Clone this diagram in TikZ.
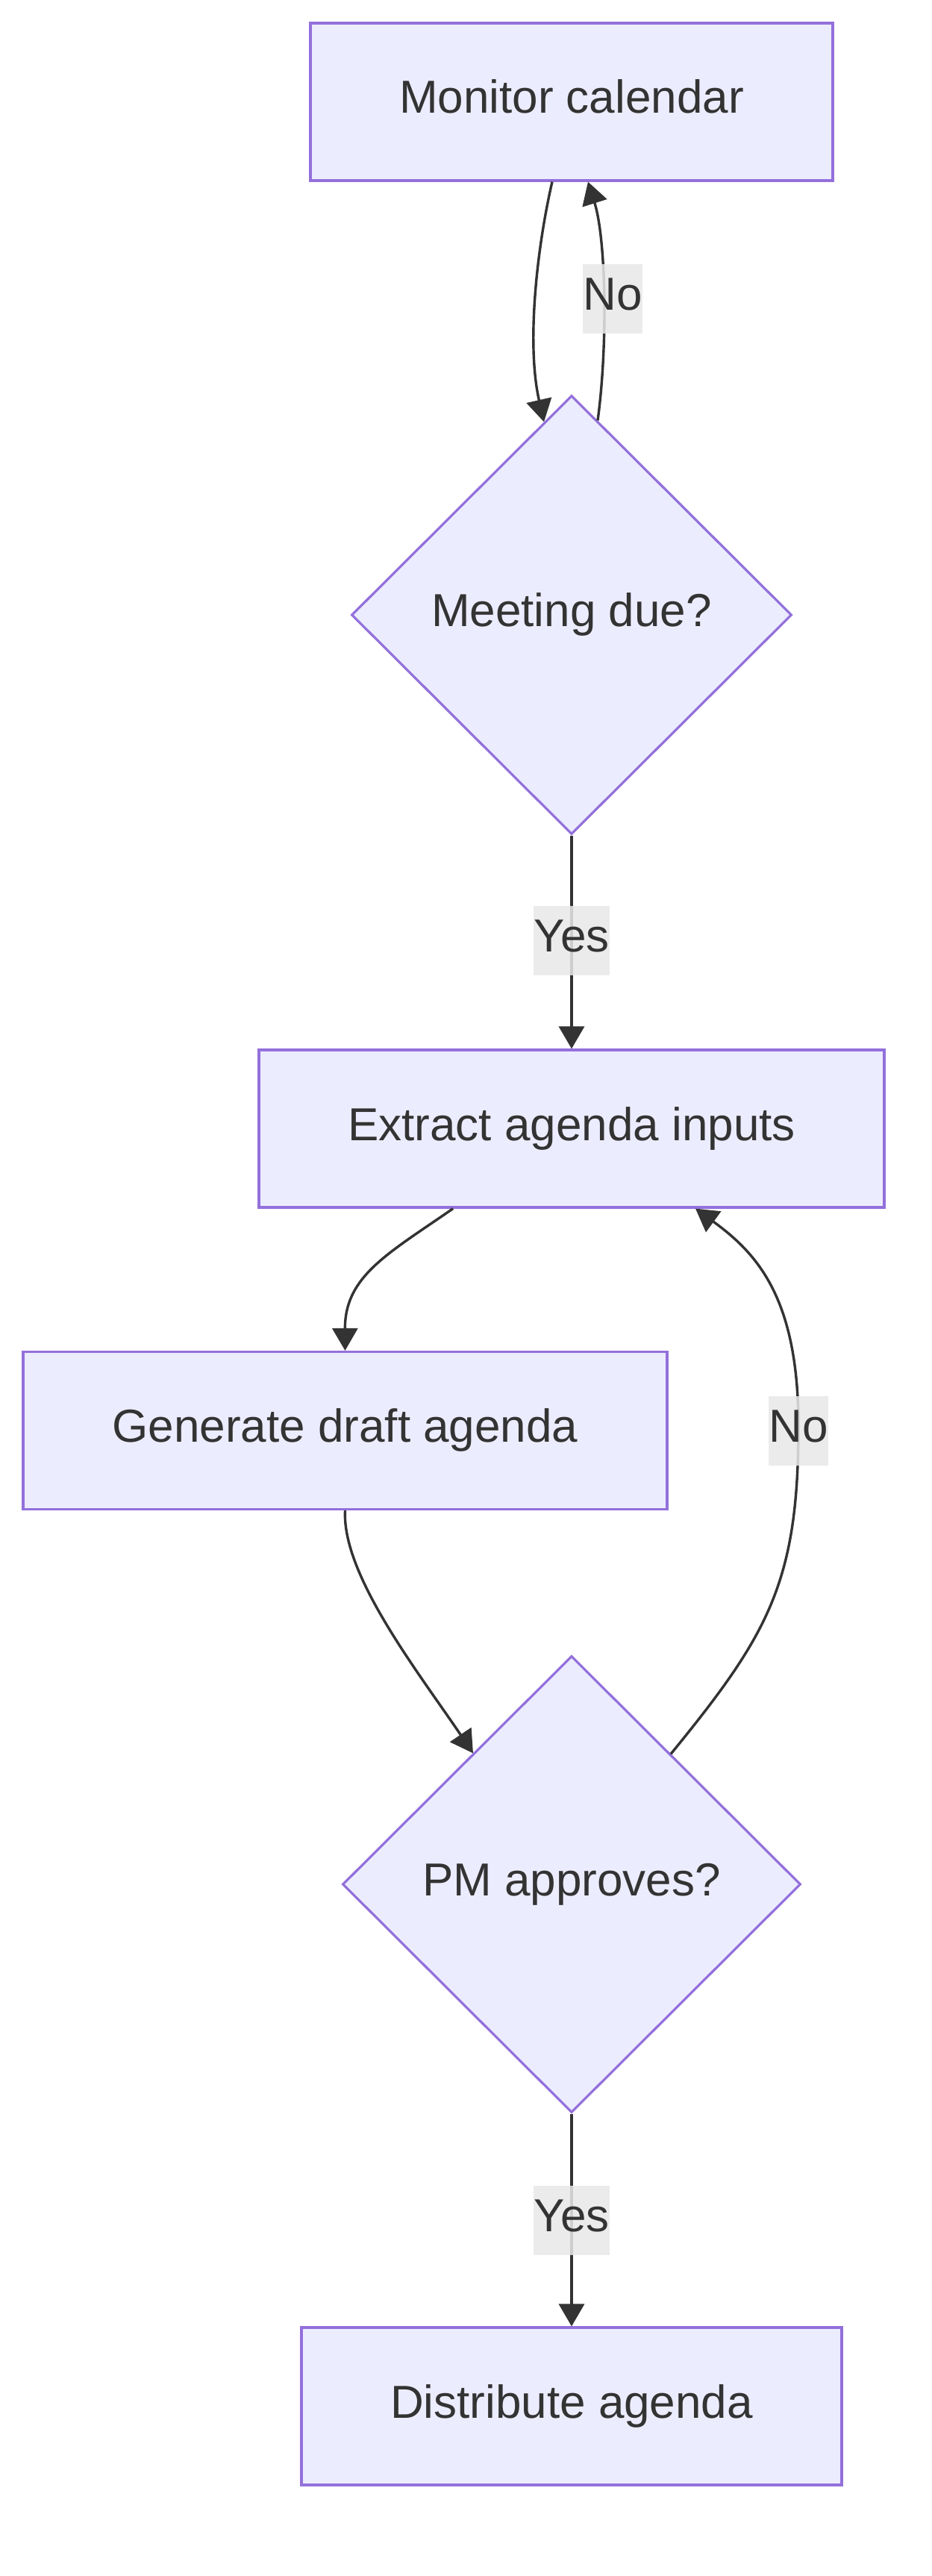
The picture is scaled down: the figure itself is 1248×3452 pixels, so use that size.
\documentclass[tikz,border=0pt]{standalone}
\usepackage{fontspec}
\setmainfont{Liberation Sans}
\usetikzlibrary{shapes.geometric,arrows.meta,calc}
\definecolor{nodefill}{HTML}{ECECFF}
\definecolor{nodeline}{HTML}{9370DB}
\definecolor{ink}{HTML}{333333}
\definecolor{lblbg}{HTML}{E8E8E8}
\begin{document}
\begin{tikzpicture}[x=0.5pt,y=-0.5pt,
  box/.style={draw=nodeline,fill=nodefill,line width=1.6pt,text=ink,
    font=\fontsize{31}{37}\selectfont,inner sep=0pt,
    text height=23.25pt,text depth=7.75pt},
  proc/.style={box,rectangle,minimum height=105.5pt},
  decision/.style={box,diamond},
  lbl/.style={fill=lblbg,fill opacity=0.85,text opacity=1,text=ink,
    font=\fontsize{31}{37}\selectfont,inner xsep=0pt,inner ysep=0pt,
    text height=23.25pt,text depth=7.75pt,minimum height=46.5pt},
  edge/.style={draw=ink,line width=1.7pt,-{Triangle[length=15pt,width=17pt]}}]
\useasboundingbox (0,0) rectangle (1248,3452);
\fill[white] (0,0) rectangle (1248,3452);
\node[proc,minimum width=350pt] (mon) at (766,136.5) {Monitor calendar};
\node[decision,minimum width=295pt,minimum height=294pt] (due) at (766,824) {Meeting due?};
\node[proc,minimum width=419pt] (ext) at (766,1512.5) {Extract agenda inputs};
\node[proc,minimum width=431.5pt] (gen) at (462.5,1917) {Generate draft agenda};
\node[decision,minimum width=307pt,minimum height=306pt] (pm) at (766,2525) {PM approves?};
\node[proc,minimum width=362pt] (dist) at (766,3224.5) {Distribute agenda};

\draw[edge] ($(mon.south)+(-26,0)$) .. controls (720,330) and (705,460) .. ($(due.north)+(-37,37)$);
\draw[edge] ($(due.north)+(35,35)$) .. controls (815,460) and (812,320) .. ($(mon.south)+(22,0)$);
\draw[edge] (due.south) -- (ext.north);
\draw[edge] ($(ext.south)+(-159,0)$) .. controls (520,1680) and (462,1710) .. (gen.north);
\draw[edge] (gen.south) .. controls (458,2110) and (560,2240) .. ($(pm.north)+(-132,132)$);
\draw[edge] ($(pm.north)+(133,133)$) .. controls (1030,2190) and (1070,2120) .. (1070,1911)
  .. controls (1070,1740) and (1015,1680) .. ($(ext.south)+(166,0)$);
\draw[edge] (pm.south) -- (dist.north);

\node[lbl] (l1) at (821,400) {No};
\node[lbl] (l2) at (766,1260) {Yes};
\node[lbl] (l3) at (1070,1917) {No};
\node[lbl] (l4) at (766,2975) {Yes};
\end{tikzpicture}
\end{document}
